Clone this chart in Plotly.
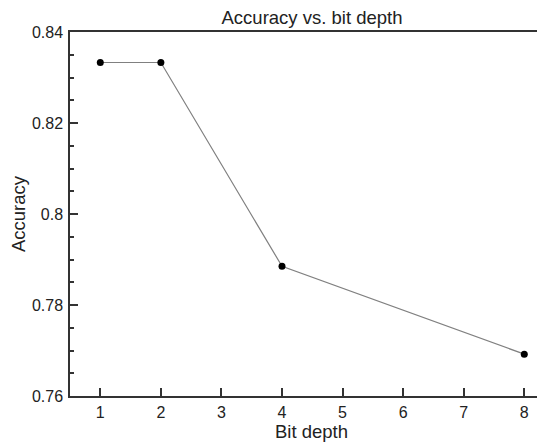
import plotly.graph_objects as go

bit_depth = [1, 2, 4, 8]
accuracy = [0.8333, 0.8333, 0.7885, 0.7692]
x_ticks = [1, 2, 3, 4, 5, 6, 7, 8]
y_ticks = [0.76, 0.78, 0.8, 0.82, 0.84]
y_tick_labels = ["0.76", "0.78", "0.8", "0.82", "0.84"]

# page body has an 8px default margin; compensate
OFF = 8
W, H = 545, 442
L, R, T, B = 70 - OFF, 0, 32 - OFF, H - (396 - OFF)
PX_PER_UNIT = 60.57

fig = go.Figure()
fig.add_trace(go.Scatter(
    x=bit_depth, y=accuracy, mode="lines+markers",
    line=dict(color="#808080", width=1.2),
    marker=dict(color="black", size=7),
    cliponaxis=False, showlegend=False,
))

axis_color = "#333333"
font = "Liberation Sans, Arial, sans-serif"

fig.update_layout(
    width=W, height=H,
    margin=dict(l=L, r=R, t=T, b=B, pad=0),
    paper_bgcolor="white", plot_bgcolor="white",
    font=dict(family=font, color="#222222", size=16),
    title=dict(text="Accuracy vs. bit depth", font=dict(size=18.5, color="#222222"),
               xref="paper", x=(312 - OFF - L) / (W - L - R), xanchor="center",
               yref="container", y=1 - 10 / H, yanchor="middle"),
    xaxis=dict(
        range=[0.5, 0.5 + (W - L - R) / PX_PER_UNIT],
        tickvals=x_ticks, ticktext=[str(v) for v in x_ticks],
        ticks="inside", ticklen=8, tickwidth=1.5, tickcolor=axis_color,
        showline=True, linecolor=axis_color, linewidth=1.5, mirror=True,
        showgrid=False, zeroline=False,
        tickfont=dict(size=16), ticklabelstandoff=1,
        title=dict(text="Bit depth", font=dict(size=18.5), standoff=2),
    ),
    yaxis=dict(
        range=[0.76, 0.84],
        tickvals=y_ticks, ticktext=y_tick_labels,
        ticks="inside", ticklen=8, tickwidth=1.5, tickcolor=axis_color,
        minor=dict(dtick=0.005, ticks="inside", ticklen=4, tickwidth=1.5,
                   tickcolor=axis_color, showgrid=False),
        showline=True, linecolor=axis_color, linewidth=1.5, mirror=False,
        showgrid=False, zeroline=False,
        tickfont=dict(size=16), ticklabelstandoff=2,
        title=dict(text="Accuracy", font=dict(size=18.5), standoff=6),
    ),
)

fig.write_html("out.html")
